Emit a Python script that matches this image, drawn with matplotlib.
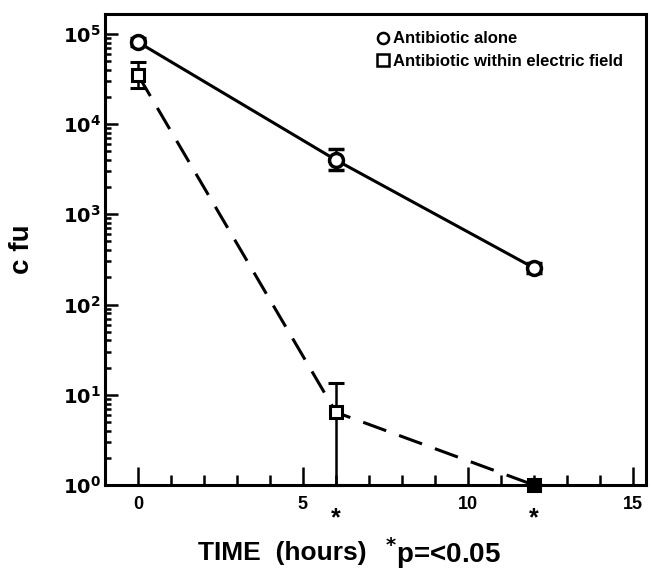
import math
import matplotlib
matplotlib.use("Agg")
import matplotlib.pyplot as plt
from matplotlib.ticker import FixedLocator, LogLocator, NullFormatter, FuncFormatter
import matplotlib.transforms as mtransforms

plt.rcParams['font.family'] = ['Liberation Sans', 'DejaVu Sans']
plt.rcParams['font.weight'] = 'bold'

# data
time = [0, 6, 12]
alone = [8.1e4, 4.0e3, 2.55e2]
alone_lo = [7.3e4, 3.1e3, 2.25e2]
alone_hi = [8.9e4, 5.3e3, 2.85e2]
field = [3.5e4, 6.4, 1.0]
field_lo = [2.5e4, 1.0, 1.0]
field_hi = [4.9e4, 13.5, 1.0]
signif = [6, 12]
xticks_major = [0, 5, 10, 15]

fig = plt.figure(figsize=(6.51, 5.73), dpi=100)
ax = fig.add_axes([105/651, 1 - 485/573, 541/651, 471/573])

lw = 2.2
ax.errorbar(time, alone,
            yerr=[[a - l for a, l in zip(alone, alone_lo)], [h - a for a, h in zip(alone, alone_hi)]],
            color='black', lw=lw, marker='o', ms=10, mfc='white', mec='black', mew=2.5,
            elinewidth=1.8, capsize=6, capthick=2, clip_on=False, zorder=3)
ax.errorbar(time, field,
            yerr=[[a - l for a, l in zip(field, field_lo)], [h - a for a, h in zip(field, field_hi)]],
            color='black', lw=lw, ls=(0, (8, 4.5)), marker='s', ms=8, mfc='white', mec='black', mew=2.2,
            elinewidth=1.8, capsize=6, capthick=2, clip_on=False, zorder=3)
# last point sits on the axis and prints solid
ax.plot(time[-1:], field[-1:], 's', color='black', ms=9, clip_on=False, zorder=4)

ax.set_yscale('log')
ax.set_ylim(1, 10 ** 5.22)
ax.set_xlim(-1.0, 15.4)

ax.xaxis.set_major_locator(FixedLocator(xticks_major))
ax.xaxis.set_minor_locator(FixedLocator(range(0, 16)))
ax.yaxis.set_major_locator(LogLocator(base=10, numticks=10))
ax.yaxis.set_minor_locator(LogLocator(base=10, subs=range(2, 10), numticks=10))
ax.yaxis.set_minor_formatter(NullFormatter())
ax.yaxis.set_major_formatter(FuncFormatter(lambda v, p: r'$\mathbf{10^{%d}}$' % round(math.log10(v))))

ax.tick_params(axis='x', which='major', direction='in', length=13, width=1.8, labelsize=13, pad=8)
ax.tick_params(axis='x', which='minor', direction='in', length=7, width=1.8)
ax.tick_params(axis='y', which='major', direction='in', length=9, width=1.8, labelsize=14, pad=3)
ax.tick_params(axis='y', which='minor', direction='in', length=4.5, width=1.8)
for lab in ax.get_xticklabels():
    lab.set_fontweight('bold')
for s in ax.spines.values():
    s.set_linewidth(2.2)

# significance marks under the x axis
trans = mtransforms.blended_transform_factory(ax.transData, ax.transAxes)
for t in signif:
    ax.text(t, -0.07, '*', transform=trans, ha='center', va='center', fontsize=18, fontweight='bold')

ax.set_ylabel('c fu', fontsize=20, fontweight='bold', labelpad=20)

fig.text(198/651, 1 - 553/573, 'TIME  (hours)', fontsize=19, fontweight='bold', ha='left', va='center')
fig.text(385/651, 1 - 553/573, r'$^{\mathbf{*}}$p=<0.05', fontsize=20, fontweight='bold', ha='left', va='center')

# legend
ax.plot([], [], 'o', ms=8, mfc='white', mec='black', mew=1.8, label='Antibiotic alone')
ax.plot([], [], 's', ms=8, mfc='white', mec='black', mew=1.8, label='Antibiotic within electric field')
h, l = ax.get_legend_handles_labels()
ax.legend(h[-2:], l[-2:], loc='upper right', bbox_to_anchor=(0.985, 0.995), frameon=False,
          handlelength=0.6, handletextpad=0.3, labelspacing=0.45, prop={'weight': 'bold', 'size': 12})

fig.savefig('out.png', dpi=100)
